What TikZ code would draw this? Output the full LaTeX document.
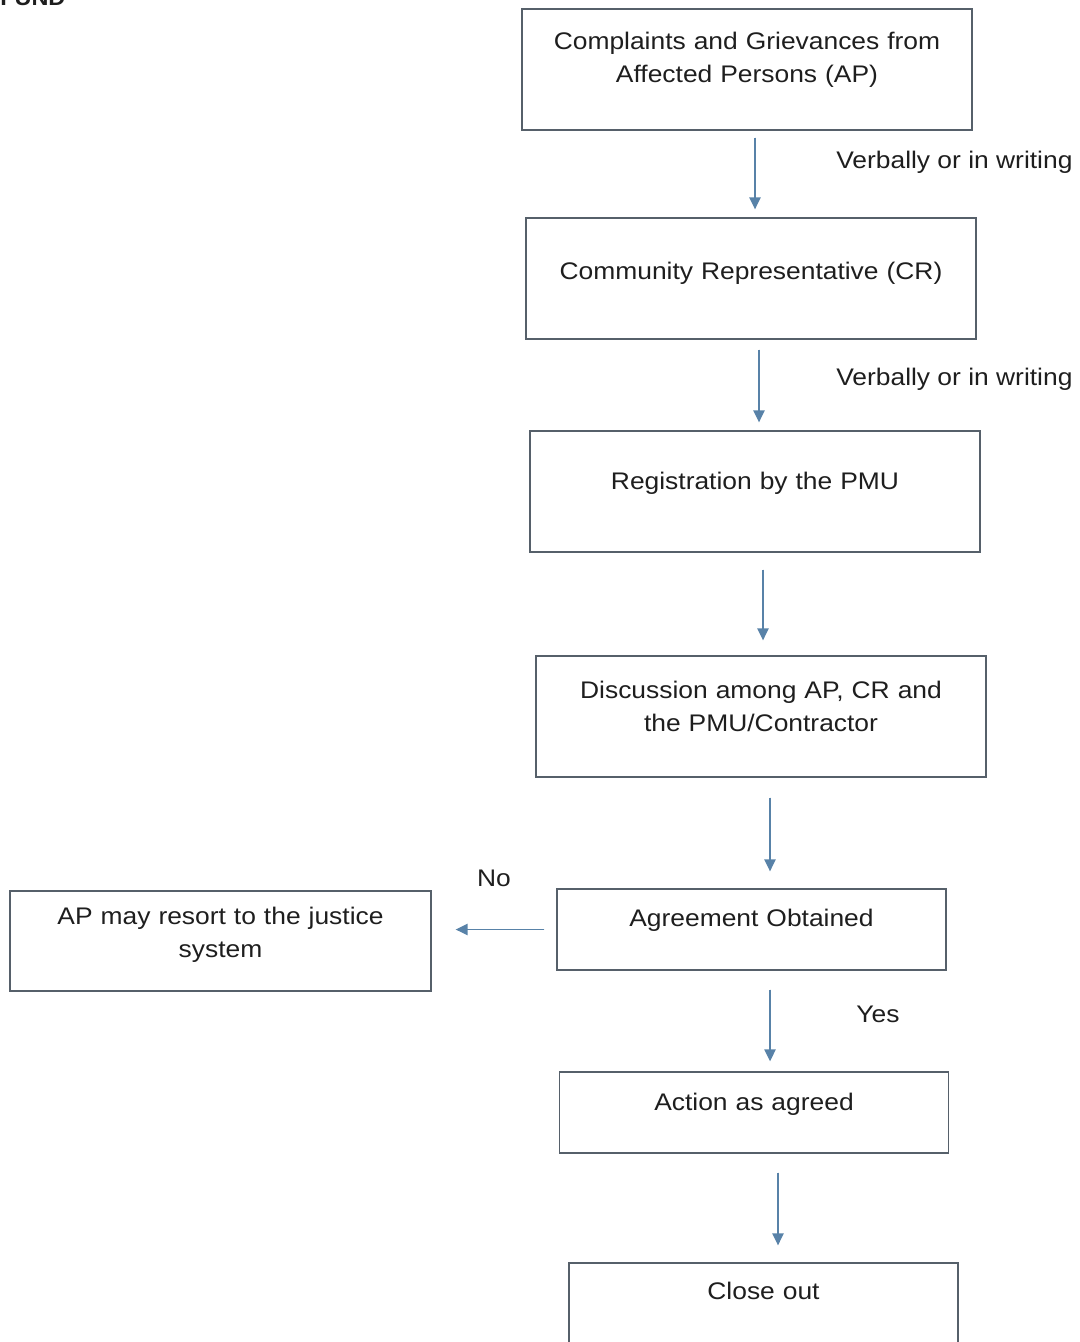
\documentclass[tikz,border=0pt]{standalone}
\usepackage{fontspec}
\setmainfont{Liberation Sans}[FakeStretch=1.1]
\usepackage{xcolor}
\usepackage{tikz}
\usetikzlibrary{arrows.meta,positioning,calc}
\definecolor{Ink}{HTML}{1E1E1E}
\definecolor{Edge}{HTML}{56606A}
\definecolor{Flow}{HTML}{5882A8}
\tikzset{
  stage/.style={
    draw=Edge, line width=1pt, inner xsep=0pt, inner ysep=0pt,
    align=center, text=Ink, text depth=16pt
  },
  wide/.style={stage,text width=337.5pt,minimum height=90.75pt},
  slim/.style={stage,text width=291.75pt,minimum height=60.75pt},
  arr/.style={-{Triangle[length=9pt,width=8.5pt]},line width=1.1pt,draw=Flow,fill=Flow},
  note/.style={text=Ink,inner sep=0pt}
}
\begin{document}
\begin{tikzpicture}[x=0.75pt,y=-0.75pt,font=\fontsize{18pt}{24.75pt}\selectfont]
  \useasboundingbox (0,0) rectangle (1080,1342);
  \node[note,anchor=base west,font=\fontsize{16pt}{18pt}\selectfont\bfseries] (fund) at (0,5) {FUND};
  \node[wide,text depth=43pt] (cga) at (747,69.5) {Complaints and Grievances from\\Affected Persons (AP)};
  \node[wide,text depth=12pt] (cr) at (751,278.5) {Community Representative (CR)};
  \node[wide] (reg) at (755,491.5) {Registration by the PMU};
  \node[wide,text depth=40pt] (disc) at (761,716.5) {Discussion among AP, CR and\\the PMU/Contractor};
  \node[slim,text depth=17pt] (agree) at (751.5,929.5) {Agreement Obtained};
  \node[stage,text width=315.75pt,minimum height=75pt,text depth=37.5pt] (court) at (220.5,941) {AP may resort to the justice\\system};
  \node[slim] (act) at (754,1112.5) {Action as agreed};
  \node[slim,text depth=19pt] (close) at (763.5,1303.5) {Close out};
  \node[note,anchor=west] (verb1) at (836,162) {Verbally or in writing};
  \node[note,anchor=west] (verb2) at (836,379) {Verbally or in writing};
  \node[note] (no) at (494,878) {No};
  \node[note] (yes) at (878,1014) {Yes};
  \draw[arr,shorten <=5.25pt,shorten >=6pt] ([xshift=6pt]cga.south) -- ([xshift=6pt]cga.south |- cr.north);
  \draw[arr,shorten <=7.5pt,shorten >=6pt] ([xshift=6pt]cr.south) -- ([xshift=6pt]cr.south |- reg.north);
  \draw[arr,shorten <=12.75pt,shorten >=11.25pt] ([xshift=6pt]reg.south) -- ([xshift=6pt]reg.south |- disc.north);
  \draw[arr,shorten <=15pt,shorten >=12.75pt] ([xshift=6.75pt]disc.south) -- ([xshift=6.75pt]disc.south |- agree.north);
  \draw[arr,shorten <=9pt,shorten >=18pt] (agree.west) -- (agree.west -| court.east);
  \draw[arr,shorten <=14.25pt,shorten >=7.5pt] ([xshift=13.9pt]agree.south) -- ([xshift=13.9pt]agree.south |- act.north);
  \draw[arr,shorten <=14.25pt,shorten >=12.75pt] ([xshift=18pt]act.south) -- ([xshift=18pt]act.south |- close.north);
\end{tikzpicture}
\end{document}
